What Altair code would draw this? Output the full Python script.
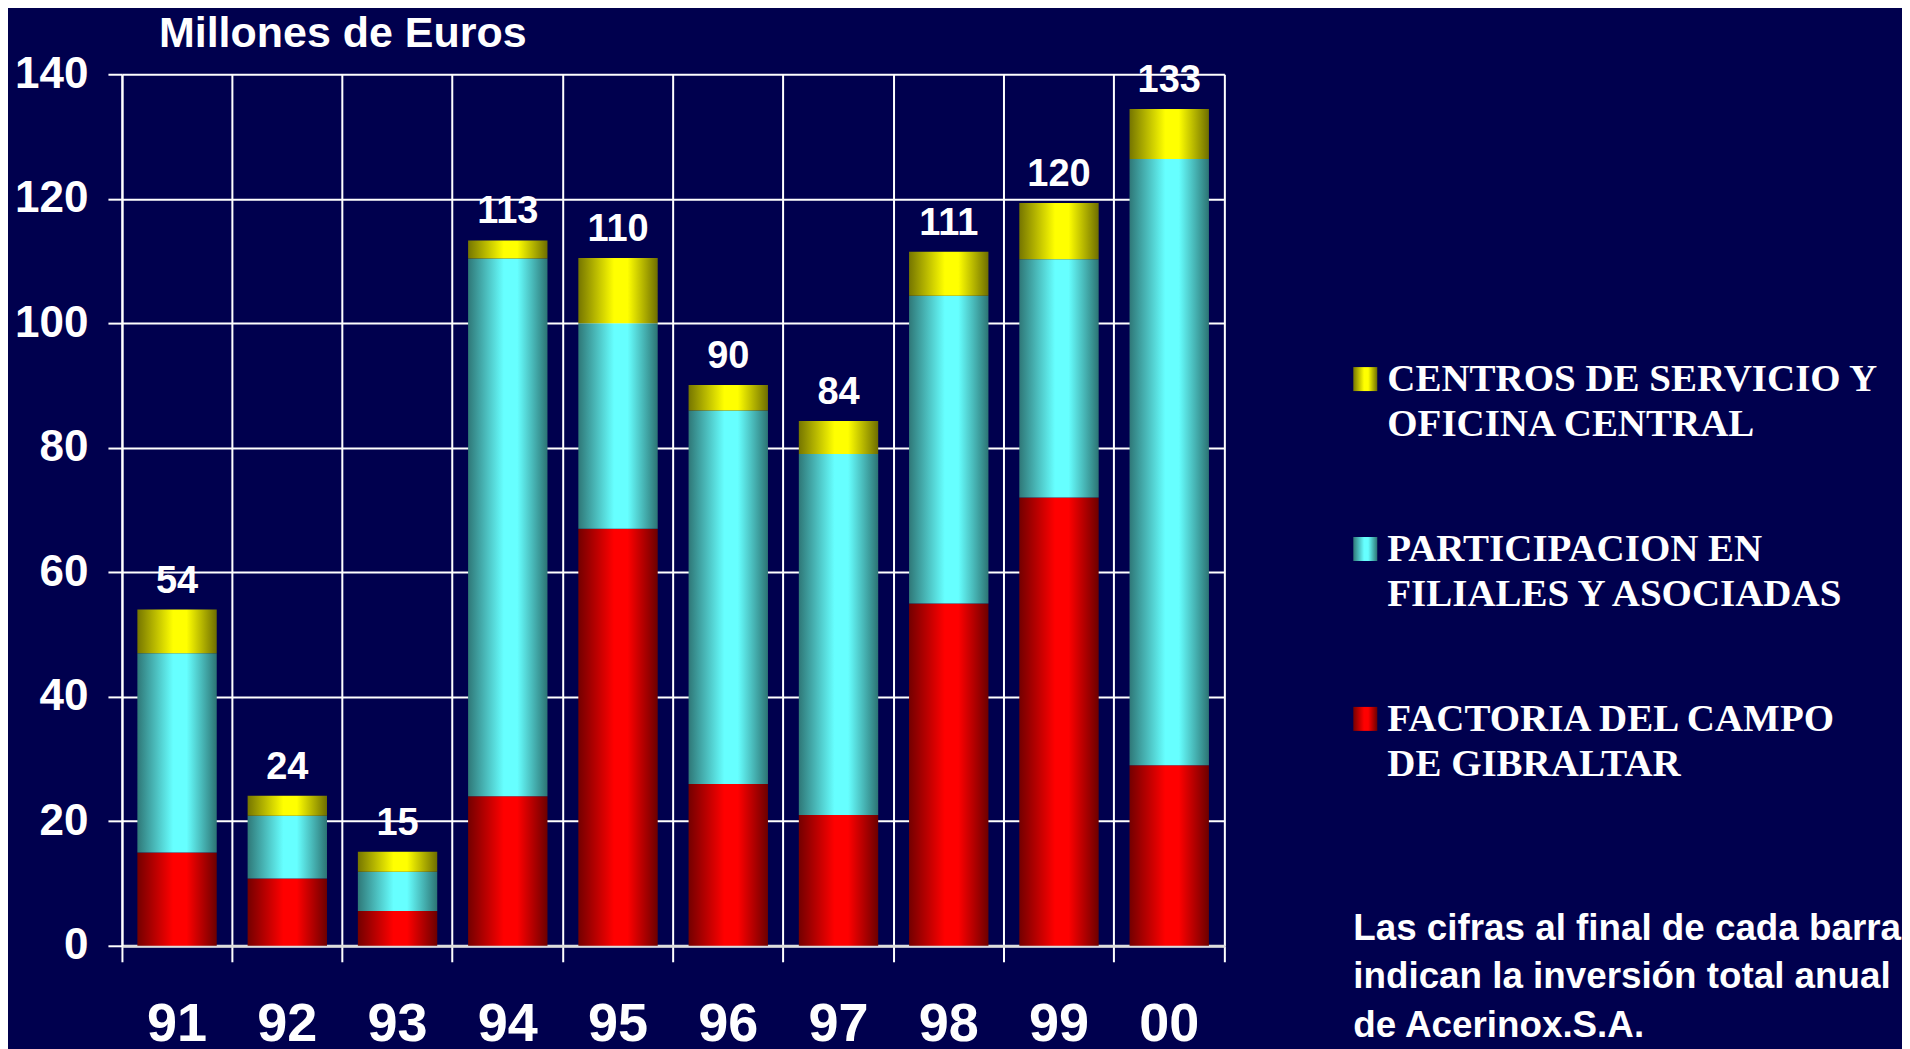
import altair as alt
import pandas as pd

# ---------------- data ----------------
years = ["91", "92", "93", "94", "95", "96", "97", "98", "99", "00"]
factoria = [15, 10.8, 5.6, 24, 67, 26, 21, 55, 72, 29]          # red
participacion = [32, 10.1, 6.3, 86.4, 33, 60, 58, 49.4, 38.3, 97.4]  # cyan
centros = [7, 3.2, 3.2, 2.9, 10.5, 4.1, 5.3, 7.1, 9, 8]         # yellow
totals = [54, 24, 15, 113, 110, 90, 84, 111, 120, 133]          # printed labels

series_names = ["factoria", "participacion", "centros"]
legend_keys = ["centros", "participacion", "factoria", "nota"]
legend_labels = [
    "CENTROS DE SERVICIO Y\nOFICINA CENTRAL",
    "PARTICIPACION EN\nFILIALES Y ASOCIADAS",
    "FACTORIA DEL CAMPO\nDE GIBRALTAR",
]
note_text = "Las cifras al final de cada barra\nindican la inversión total anual\nde Acerinox.S.A."
title_text = "Millones de Euros"

# ---------------- tables ----------------
rows = []
for i, yr in enumerate(years):
    lo = 0.0
    for name, vals in zip(series_names, [factoria, participacion, centros]):
        rows.append({"year": yr, "series": name, "lo": lo, "hi": lo + vals[i]})
        lo += vals[i]
stack_df = pd.DataFrame(rows)
top_df = pd.DataFrame({
    "year": years,
    "top": [f + p + c for f, p, c in zip(factoria, participacion, centros)],
    "label": [str(t) for t in totals],
})
legend_df = pd.DataFrame({"key": legend_keys[:3], "label": legend_labels})
note_df = pd.DataFrame({"key": ["nota"], "label": [note_text]})

# ---------------- styling ----------------
BG = "#00004e"
SANS = "Liberation Sans"
SERIF = "Liberation Serif"


def grad(dark_l, bright, dark_r):
    return alt.Gradient(
        gradient="linear",
        stops=[
            alt.GradientStop(offset=0, color=dark_l),
            alt.GradientStop(offset=0.45, color=bright),
            alt.GradientStop(offset=0.62, color=bright),
            alt.GradientStop(offset=1, color=dark_r),
        ],
        x1=0, x2=1, y1=0, y2=0,
    )


gradients = {
    "factoria": grad("#740000", "#ff0000", "#6c0000"),
    "participacion": grad("#2f7878", "#66ffff", "#2c7474"),
    "centros": grad("#767600", "#ffff00", "#6e6e00"),
}

x_enc = alt.X(
    "year:N",
    sort=years,
    title=None,
    scale=alt.Scale(paddingInner=0, paddingOuter=0),
    axis=alt.Axis(
        labelAngle=0, labelFont=SANS, labelFontWeight="bold", labelFontSize=54,
        labelColor="white", labelPadding=36, tickSize=16, tickColor="white",
        tickWidth=2, grid=True, gridColor="white", gridWidth=2,
        domainColor="#dddddd", domainWidth=3, bandPosition=1, tickExtra=True,
    ),
)
y_scale = alt.Scale(domain=[0, 140], nice=False)
y_axis = alt.Axis(
    values=[0, 20, 40, 60, 80, 100, 120, 140], labelFont=SANS,
    labelFontWeight="bold", labelFontSize=44, labelColor="white",
    labelPadding=20, tickSize=14, tickColor="white", tickWidth=2,
    grid=True, gridColor="white", gridWidth=2, domainColor="white",
    domainWidth=2,
)

layers = []
for name in series_names:
    layers.append(
        alt.Chart(stack_df)
        .transform_filter(alt.datum.series == name)
        .mark_bar(fill=gradients[name], width=alt.RelativeBandSize(0.72))
        .encode(
            x=x_enc,
            y=alt.Y("lo:Q", scale=y_scale, axis=y_axis, title=None),
            y2="hi:Q",
        )
    )

labels = (
    alt.Chart(top_df)
    .mark_text(font=SANS, fontWeight="bold", fontSize=38, color="white",
               baseline="middle", dy=-28)
    .encode(
        x=x_enc,
        y=alt.Y("top:Q", scale=y_scale, axis=y_axis, title=None),
        text="label:N",
    )
)

main = alt.layer(*layers, labels).properties(
    width=1103,
    height=872,
    title=alt.TitleParams(
        title_text, anchor="start", frame="group", dx=37, fontSize=43, font=SANS,
        fontWeight="bold", color="white", baseline="alphabetic", offset=-37.5,
    ),
)

# ---------------- legend panel ----------------
ly = alt.Y(
    "key:N", sort=legend_keys, axis=None,
    scale=alt.Scale(type="point", domain=legend_keys, range=[305, 815], padding=0),
)
swatches = []
for name in series_names:
    swatches.append(
        alt.Chart(legend_df)
        .transform_filter(alt.datum.key == name)
        .mark_square(size=576, fill=gradients[name], filled=True, opacity=1)
        .encode(x=alt.value(12), y=ly)
    )
leg_text = (
    alt.Chart(legend_df)
    .mark_text(font=SERIF, fontWeight="bold", fontSize=39, color="white",
               align="left", baseline="middle", lineHeight=45, lineBreak="\n")
    .encode(x=alt.value(34), y=ly, text="label:N")
)
note = (
    alt.Chart(note_df)
    .mark_text(font=SANS, fontWeight="bold", fontSize=36.8, color="white",
               align="left", baseline="middle", lineHeight=48.5, lineBreak="\n",
               dy=40)
    .encode(x=alt.value(0), y=ly, text="label:N")
)
legend_panel = alt.layer(*swatches, leg_text, note).properties(width=548, height=872)

chart = (
    alt.hconcat(main, legend_panel, spacing=128)
    .properties(padding={"left": 6, "top": 4, "right": 0, "bottom": 0})
    .configure(background=BG)
    .configure_view(strokeWidth=0)
)

chart.save("out.html", embed_options={"renderer": "svg", "actions": False})
